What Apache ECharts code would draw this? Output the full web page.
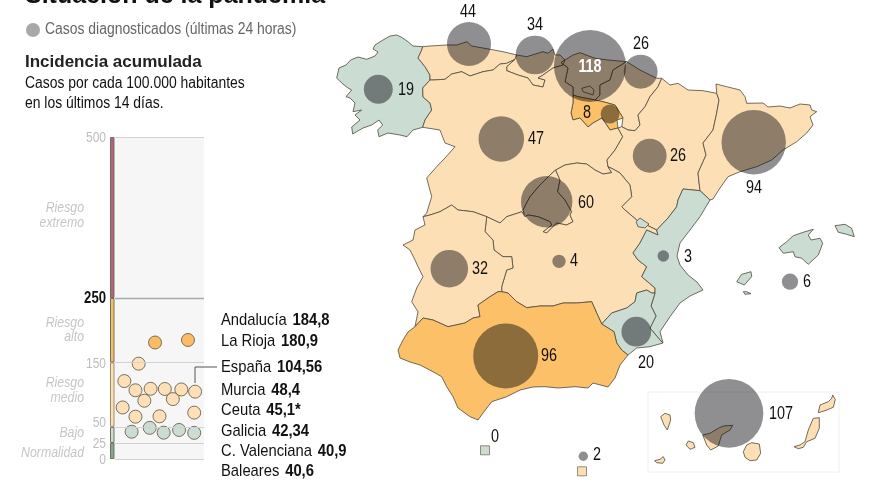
<!DOCTYPE html>
<html>
<head>
<meta charset="utf-8">
<style>html,body{margin:0;padding:0;background:#fff}#main{width:880px;height:495px}</style>
<script src="https://cdn.jsdelivr.net/npm/echarts@6/dist/echarts.min.js"></script>
</head>
<body>
<div id="main"></div>
<script>
// casos diagnosticados en las ultimas 24 horas
var regionNames = ['Galicia','Asturias','Cantabria','País Vasco','Navarra','La Rioja','Castilla y León','Aragón','Cataluña','Madrid','Castilla-La Mancha','Extremadura','C. Valenciana','Murcia','Andalucía','Baleares','Canarias','Ceuta','Melilla'];
var cases = [19,44,34,118,26,8,47,26,94,60,4,32,3,20,96,6,107,0,2];
var bubbleSpots = [[378.3,89.3],[469,44],[535,55],[590,66],[640.7,71.7],[610,114],[501.3,139],[649.7,155.7],[753.7,142.3],[546.7,201.7],[559,261.3],[449.3,268.7],[663.3,256],[636.3,331.7],[505.7,356],[790,281.7],[729,413.3],[485,450],[583.3,456.3]];
var labelSpots = [[406,90],[468,12],[535,25],[590,67],[641,44],[587,113],[536,139],[678,156],[754,188],[586,203],[574,261],[480,269],[688,257],[646,363],[549,356],[807,282],[781,414],[495,437],[597,455]];

// incidencia acumulada por comunidad (los que no tienen nombre)
var swarmValues = [184.8,180.9,148,121,109,108.7,108,106.7,104.56,93,90.5,80,72,66.3,65.7,48.4,45.1,42.34,40.9,40.6];
var swarmOffsets = [82,45,26.6,10.5,40,56,74.5,23,90,65,33,8.6,89,50,23,39,72,18.7,54.7,89];
var swarmTicks = [500,250,150,50,25,0];
var bandSizes = [25,25,100,100,250];
var bandColors = ['#83a890','#cbdcd3','#fde0b8','#f7bd66','#b8607a'];

var incidenceNames = ['Andalucía','La Rioja','España','Murcia','Ceuta','Galicia','C. Valenciana','Baleares'];
var incidenceValues = ['184,8','180,9','104,56','48,4','45,1*','42,34','40,9','40,6'];
var incidenceRows = [320,341,367,390,410.5,431,451,471];

var riskLabels = [['Riesgo',208],['extremo',223],['Riesgo',323],['alto',337],['Riesgo',383],['medio',398],['Bajo',433],['Normalidad',453]];

var BEIGE = '#fddfb6', GREEN = '#cbdcd3', ORANGE = '#fcc069';
var FONT = '"Liberation Sans",Arial,sans-serif';

// contornos de las comunidades
var shapes = {
  'recuadro': [[[648,392],[839,392],[839,472],[648,472]]],
  'Galicia': [[[422.7,46.7],[413,46],[408,41.7],[401.7,37.3],[396.7,35],[390,36],[383,40],[375,45],[373,49],[378,52],[375,56],[366.7,59.3],[358,57],[350.7,60],[346,65],[339,68],[336.7,78],[341.7,83],[348,88],[351.7,90],[346,96.7],[350,98],[355,103],[353,111.7],[361.7,110],[355,115],[360,120],[351.7,127],[352.7,134],[363,128],[371.7,125],[379,120],[382.7,125],[377.7,130],[379,136.7],[388,133],[400,135],[407,136.7],[413,130],[422.7,127.3],[425,120],[431.7,110],[430,103],[423,97],[422.7,88],[430,80],[430,75],[425,66.7],[418,58],[421.7,50]]],
  'Asturias': [[[422.7,46.7],[430,46],[446.7,45],[456.7,45],[467,41.7],[471.7,46],[490,49.3],[503,51.7],[516.7,55],[515,59.3],[506.7,63.3],[500,64],[493,70],[483,71.7],[470,76],[461.7,71.7],[451.7,74],[445,79.3],[433,80],[430,80],[430,75],[425,66.7],[418,58],[421.7,50]]],
  'Cantabria': [[[516.7,55],[526.7,56.7],[543,51.7],[548,53.3],[553,49],[555,55],[560,55],[565,60],[563,65],[553,68],[543,75],[538,78],[545,80],[543,87],[533,85],[528,78],[518,75],[506.7,70.7],[506.7,66.7],[515,59.3]]],
  'País Vasco': [[[565,60],[573,55],[580,52.7],[595,58.3],[608,60],[626.7,61.7],[613,70],[610,80],[600,85],[600,95],[595,100],[578,96.7],[573,95],[573,87],[565,81.7],[568,68],[561,62.7]]],
  'Navarra': [[[626.7,61.7],[640,70],[656.7,78.3],[661.7,78.3],[658,86.7],[650,96.7],[645,106.7],[638,115],[640,125],[635,130.7],[628,130],[621.7,126.7],[623,118],[615,105],[603,101.7],[595,100],[600,95],[600,85],[610,80],[613,70]]],
  'La Rioja': [[[573,95],[578,96.7],[595,100],[603,101.7],[615,105],[623,118],[617,120],[618,128],[610,130],[602,118],[593,123],[588,127],[580,118],[573,120],[571,113],[573,103]]],
  'Castilla y León': [[[422.7,127.3],[425,120],[431.7,110],[430,103],[423,97],[422.7,88],[430,80],[433,80],[445,79.3],[451.7,74],[461.7,71.7],[470,76],[483,71.7],[493,70],[500,64],[506.7,63.3],[515,59.3],[506.7,66.7],[506.7,70.7],[518,75],[528,78],[533,85],[543,87],[545,80],[538,78],[543,75],[553,68],[563,65],[565,60],[561,62.7],[568,68],[565,81.7],[573,87],[573,95],[573,103],[571,113],[573,120],[580,118],[588,127],[593,123],[602,118],[610,130],[618,128],[622.7,136.7],[615,150],[607,160],[608,166.7],[611.7,172.7],[603,174],[595,170],[586.7,164],[576.7,163],[565,165],[555.7,170],[550,175],[540,185],[530,196.7],[523,210],[525,216.7],[521.7,211.7],[518,213],[506.7,216.7],[500,223],[486.7,216.7],[473,211.7],[458,210],[451.7,205],[440,211.7],[430,215],[423,216.7],[426.7,213],[431.7,196.7],[426.7,178],[436.7,166.7],[445,158],[455,146.7],[445,143],[440,130]]],
  'Treviño': [[[581.7,88.3],[590,86],[594,90],[593,95],[583,91.7]]],
  'Aragón': [[[661.7,78.3],[670,85],[678,83.3],[688,90],[703,90.7],[716.7,93.3],[719,100],[716.7,113],[713,130],[703,143],[706,155],[698,173],[700,190.7],[683,189],[678,200],[676.7,206.7],[668,218],[656.7,230],[650,226.7],[636.7,220],[625,210],[621.7,206.7],[631.7,196.7],[630,185],[620,173],[613,169],[608,166.7],[607,160],[615,150],[622.7,136.7],[618,128],[621.7,126.7],[628,130],[635,130.7],[640,125],[638,115],[645,106.7],[650,96.7],[658,86.7]]],
  'Cataluña': [[[716.7,93.3],[716,84],[726.7,86.7],[740,90],[745,96.7],[746.7,103.3],[763,103],[768,107],[780,106],[790,108],[800,104],[810,105],[811.7,110],[816.7,111.7],[810,116.7],[813,125],[806.7,133],[796.7,141.7],[783,150],[771.7,160],[756.7,166.7],[740,171.7],[728,176.7],[720,188],[713,199],[710,200],[700,190.7],[698,173],[706,155],[703,143],[713,130],[716.7,113],[719,100]]],
  'Madrid': [[[555.7,170],[560,180],[557.7,191.7],[565,200],[571.7,211.7],[570,215],[573,221.7],[566.7,225],[556.7,223],[546.7,233],[543,231.7],[551.7,225],[550,221.7],[538,216.7],[528,215],[525,216.7],[523,210],[530,196.7],[540,185],[550,175]]],
  'Castilla-La Mancha': [[[555.7,170],[565,165],[576.7,163],[586.7,164],[595,170],[603,174],[611.7,172.7],[608,166.7],[613,169],[620,173],[630,185],[631.7,196.7],[621.7,206.7],[625,210],[636.7,220],[650,226.7],[656.7,230],[658,235],[646.7,230],[640,243],[633,253],[638,260],[646.7,266.7],[641.7,276.7],[655,288],[655,293],[651.7,293],[646.7,290],[636.7,293],[635,301.7],[626.7,308],[611.7,313],[601.7,324],[596.7,313],[591.7,301.7],[576.7,303],[563,303],[553,306],[540,306],[526.7,307.7],[516.7,301.7],[508,293],[501.7,291.7],[501.7,286.7],[506.7,270],[513,268],[511.7,256.7],[503,256.7],[494,250],[493,240],[485,231.7],[486.7,216.7],[500,223],[506.7,216.7],[518,213],[521.7,211.7],[525,216.7],[528,215],[538,216.7],[550,221.7],[551.7,225],[543,231.7],[546.7,233],[556.7,223],[566.7,225],[573,221.7],[570,215],[571.7,211.7],[565,200],[557.7,191.7],[560,180]]],
  'Extremadura': [[[486.7,216.7],[473,211.7],[458,210],[451.7,205],[440,211.7],[430,215],[423,216.7],[425,225],[415,230],[413,240],[403,245],[410,250],[415,260],[418,266.7],[423,276.7],[416.7,288],[411.7,301.7],[418,311.7],[415,326.7],[423,318],[433,320],[448,326.7],[465,323],[473,318],[480,316.7],[478,305],[490,296.7],[498,291.7],[501.7,291.7],[501.7,286.7],[506.7,270],[513,268],[511.7,256.7],[503,256.7],[494,250],[493,240],[485,231.7]]],
  'C. Valenciana': [
    [[700,190.7],[710,200],[700,216.7],[690,230],[680,243],[677,256],[680,265],[688,275],[697,282],[703,290],[690,296],[680,303],[670,316.7],[660,331.7],[663,343],[660,340],[650,328],[656,316],[651,306],[655,293],[655,288],[641.7,276.7],[646.7,266.7],[638,260],[633,253],[640,243],[646.7,230],[658,235],[656.7,230],[668,218],[676.7,206.7],[678,200],[683,189]],
    [[636,221.7],[640,218],[649,224],[645,228],[638,226.7]]
  ],
  'Murcia': [[[655,293],[651,306],[656,316],[650,328],[660,340],[663,343],[650,346.7],[636.7,348],[628,355],[621.7,350],[616.7,343],[614,331.7],[601.7,324],[611.7,313],[626.7,308],[635,301.7],[636.7,293],[646.7,290],[651.7,293]]],
  'Andalucía': [[[501.7,291.7],[508,293],[516.7,301.7],[526.7,307.7],[540,306],[553,306],[563,303],[576.7,303],[591.7,301.7],[596.7,313],[601.7,324],[614,331.7],[616.7,343],[621.7,350],[628,355],[620,365],[615,378],[608,387],[593,383],[588,388],[575,386.7],[558,388],[545,386.7],[533,387],[520,390],[506.7,396.7],[491.7,401.7],[483,413],[478,420],[470,416.7],[458,408],[453,396.7],[446.7,386.7],[441.7,376.7],[433,371.7],[420,365],[410,362],[400,358],[398,350],[403,340],[408,332],[415,326.7],[423,318],[433,320],[448,326.7],[465,323],[473,318],[480,316.7],[478,305],[490,296.7],[498,291.7]]],
  'Baleares': [
    [[779,247.7],[786.7,241.7],[793.3,235.7],[805,231.7],[813.3,229.3],[808.3,235],[811,240],[820,238.3],[822.7,243.3],[818.3,255],[808.3,264.3],[801.7,258.3],[795,256.7],[793.3,251.7],[783.3,253.3]],
    [[835,225.7],[845,224.3],[851.7,228.3],[854.3,236.7],[846.7,234.3],[838.3,232.3]],
    [[736.7,281.7],[741.7,274.3],[751,271.7],[751.7,276.7],[744.3,285]],
    [[743.3,291.7],[746.7,291.7],[751,293.7],[745,294.3]]
  ],
  'Canarias': [
    [[660.7,416.7],[665,413.3],[670,415],[670.7,420],[667.3,430],[664,425]],
    [[654.7,460.7],[660,459.3],[663.3,456.7],[665,460],[662.7,463.3],[656.7,462.7]],
    [[686,445],[688.3,441],[693.3,442.7],[695,447.3],[690,449.3]],
    [[702.7,435],[710,433.3],[718.3,428.3],[723.3,426],[732.7,425.3],[730,430],[721.7,435],[718.3,446],[710.7,450],[706.7,445]],
    [[743.3,451.7],[746.7,445],[751.7,442.7],[759.3,444],[760.7,453.3],[756.7,460],[750,460.7],[745,457.3]],
    [[794,446.7],[800,445],[805,441.7],[808.3,430],[813.3,418.3],[819.3,417.7],[819.3,428.3],[815,438.3],[806.7,441.7],[803.3,447.3],[798.3,448.7]],
    [[818.3,412.7],[820,405],[828.3,401.7],[831.7,398.3],[832.7,395],[835.3,399.3],[833.3,407.3],[825,410.7]]
  ]
};
var regionFill = {
  'recuadro':'#ffffff','Galicia':GREEN,'C. Valenciana':GREEN,'Murcia':GREEN,'Baleares':GREEN,
  'La Rioja':ORANGE,'Andalucía':ORANGE
};

var features = Object.keys(shapes).map(function (name) {
  return {
    type: 'Feature',
    properties: { name: name },
    geometry: {
      type: 'MultiPolygon',
      coordinates: shapes[name].map(function (ring) { return [ring.concat([ring[0]])]; })
    }
  };
});
echarts.registerMap('espana', { type: 'FeatureCollection', features: features });

// la letra original es estrecha: se comprime en horizontal
function textItem(text, x, y, style, squeeze) {
  return {
    type: 'text', x: x, y: y, scaleX: squeeze || 0.87, silent: true,
    style: Object.assign({ text: text, fill: '#111', fontFamily: FONT, fontSize: 16, verticalAlign: 'middle' }, style || {})
  };
}

var graphics = [
  textItem('Situación de la pandemia', 25, -4, { fontWeight: 'bold', fontSize: 25 }, 1),
  { type: 'circle', silent: true, shape: { cx: 33, cy: 30, r: 7 }, style: { fill: '#a8a8a8' } },
  textItem('Casos diagnosticados (últimas 24 horas)', 45, 30, { fill: '#666' }),
  textItem('Incidencia acumulada', 25, 62, { fontWeight: 'bold', fontSize: 17, fill: '#222' }, 1),
  textItem('Casos por cada 100.000 habitantes', 25, 84),
  textItem('en los últimos 14 días.', 25, 104),
  { type: 'polyline', silent: true, shape: { points: [[195, 383], [195, 367], [217, 367]] }, style: { stroke: '#555', lineWidth: 1, fill: null } }
];
riskLabels.forEach(function (r) {
  graphics.push(textItem(r[0], 84, r[1], { fill: '#c6c6c6', fontStyle: 'italic', fontSize: 15, align: 'right' }, 0.82));
});
incidenceNames.forEach(function (name, i) {
  graphics.push({
    type: 'text', x: 221, y: incidenceRows[i], scaleX: 0.87, silent: true,
    style: {
      text: '{n|' + name + '}  {v|' + incidenceValues[i] + '}',
      verticalAlign: 'middle',
      rich: {
        n: { fontFamily: FONT, fontSize: 17, fill: '#111' },
        v: { fontFamily: FONT, fontSize: 17, fontWeight: 'bold', fill: '#111' }
      }
    }
  });
});

var bandSeries = bandSizes.map(function (size, i) {
  return {
    type: 'bar', stack: 'riesgo', xAxisIndex: 1, yAxisIndex: 1, silent: true, barWidth: '100%',
    data: [size],
    itemStyle: { color: bandColors[i], borderColor: i === 2 ? '#9a8a68' : '#6f6f60', borderWidth: 1 }
  };
});

var option = {
  animation: false,
  backgroundColor: '#fff',
  grid: [
    { left: 115, top: 137, width: 89, height: 322, show: true, backgroundColor: '#f6f6f6', borderWidth: 0 },
    { left: 110, top: 137, width: 4.5, height: 322 }
  ],
  xAxis: [
    { type: 'value', min: 0, max: 100, show: false },
    { type: 'category', gridIndex: 1, data: ['riesgo'], show: false }
  ],
  yAxis: [
    {
      type: 'value', min: 0, max: 500, interval: 500,
      axisLine: { show: false }, axisTick: { show: false }, splitLine: { show: false }, axisLabel: { show: false }
    },
    { type: 'value', gridIndex: 1, min: 0, max: 500, show: false }
  ],
  geo: {
    map: 'espana', silent: true, roam: false,
    projection: { project: function (p) { return p; }, unproject: function (p) { return p; } },
    boundingCoords: [[0, 0], [880, 495]],
    left: 0, top: 0, width: 880, height: 495,
    label: { show: false },
    itemStyle: { areaColor: BEIGE, borderColor: '#4f4a3c', borderWidth: 0.8 },
    regions: Object.keys(regionFill).map(function (name) {
      return name === 'recuadro'
        ? { name: name, itemStyle: { areaColor: '#fff', borderColor: '#f0f0f0', borderWidth: 1 } }
        : { name: name, itemStyle: { areaColor: regionFill[name] } };
    })
  },
  graphic: graphics,
  series: bandSeries.concat([
    {
      type: 'scatter', symbolSize: 13, silent: true, z: 3,
      data: swarmValues.map(function (v, i) { return [swarmOffsets[i], v]; }),
      itemStyle: {
        borderColor: '#5c5240', borderWidth: 0.8, opacity: 1,
        color: function (p) { return p.value[1] >= 150 ? '#fbbd63' : p.value[1] >= 50 ? '#fde0b8' : '#cbdcd3'; }
      },
      markLine: {
        silent: true, symbol: 'none', animation: false, label: { show: false },
        data: swarmTicks.map(function (t) {
          return { yAxis: t, lineStyle: { color: t === 250 ? '#aaaaaa' : '#d2d2d2', width: t === 250 ? 1.4 : 1, type: 'solid' } };
        })
      }
    },
    {
      // etiquetas del eje de incidencia
      type: 'custom', silent: true, z: 5, clip: false,
      data: swarmTicks.map(function (t) { return [0, t]; }),
      renderItem: function (params, api) {
        var v = api.value(1);
        var pt = api.coord([0, v]);
        return {
          type: 'text', x: pt[0] - 9, y: pt[1] + (v === 50 ? -4 : 1), scaleX: v === 250 ? 0.82 : 0.8,
          style: {
            text: String(v), align: 'right', verticalAlign: 'middle', fontFamily: FONT,
            fontSize: v === 250 ? 16 : 15, fontWeight: v === 250 ? 'bold' : 'normal',
            fill: v === 250 ? '#111' : '#bdbdbd'
          }
        };
      }
    },
    {
      // cuadros de Ceuta y Melilla
      type: 'scatter', coordinateSystem: 'geo', symbol: 'rect', symbolSize: 9, silent: true, z: 3,
      data: [[485, 450.3], [582, 471.3]],
      itemStyle: {
        borderColor: '#77745f', borderWidth: 0.8, opacity: 1,
        color: function (p) { return p.dataIndex === 0 ? GREEN : BEIGE; }
      }
    },
    {
      type: 'scatter', coordinateSystem: 'geo', silent: true, z: 4, blendMode: 'multiply',
      symbolSize: function (v) { return 6.64 * Math.sqrt(v[2]); },
      data: cases.map(function (c, i) { return { name: regionNames[i], value: bubbleSpots[i].concat(c) }; })
        .filter(function (d) { return d.value[2] > 0; }),
      itemStyle: { color: '#8f8f92', opacity: 1 }
    },
    {
      // cifras de casos junto a cada circulo
      type: 'custom', coordinateSystem: 'geo', silent: true, z: 5,
      data: cases.map(function (c, i) { return labelSpots[i].concat(c, regionNames[i] === 'País Vasco' ? 1 : 0); }),
      renderItem: function (params, api) {
        var pt = api.coord([api.value(0), api.value(1)]);
        var big = api.value(3) === 1;
        return {
          type: 'text', x: pt[0], y: pt[1], scaleX: 0.8,
          style: {
            text: String(api.value(2)), align: 'center', verticalAlign: 'middle', fontFamily: FONT,
            fontSize: 18, fontWeight: big ? 'bold' : 'normal', fill: big ? '#fff' : '#111'
          }
        };
      }
    }
  ])
};

var chart = echarts.init(document.getElementById('main'));
chart.setOption(option);
</script>
</body>
</html>
